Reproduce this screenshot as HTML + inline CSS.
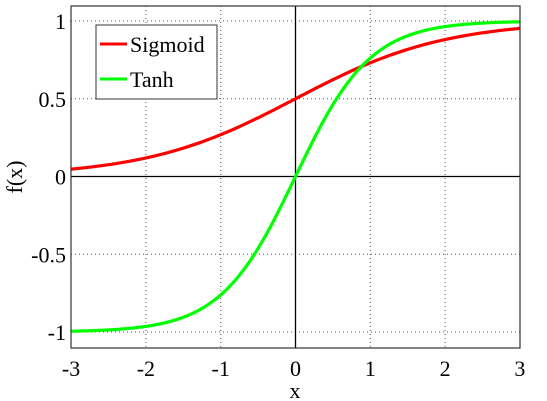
<!DOCTYPE html>
<html><head><meta charset="utf-8"><style>body{margin:0;background:#fff}svg{display:block;font-family:"Liberation Serif",serif}</style></head><body>
<svg id="c" width="547" height="401"></svg>
<script>
const xTicks=[-3,-2,-1,0,1,2,3];
const yTicks=[-1,-0.5,0,0.5,1];
const yTickLabels=["-1","-0.5","0","0.5","1"];
const seriesNames=["Sigmoid","Tanh"];
const seriesColors=["#ff0000","#00ff00"];
const L=71,R=520,T=6,B=348;
const X=v=>295.5+v*74.8, Y=v=>176.5-v*155.5;
const svg=document.getElementById('c');const NS='http://www.w3.org/2000/svg';
function mk(t,a,p){const e=document.createElementNS(NS,t);for(const k in a)e.setAttribute(k,a[k]);(p||svg).appendChild(e);return e;}
xTicks.forEach(v=>{if(v>-3&&v<3&&v!==0){const l=mk('line',{x1:X(v),x2:X(v),y1:T,y2:B,stroke:'#555','stroke-dasharray':'1,3','stroke-width':1});}
const t=mk('text',{x:X(v),y:B+28,'text-anchor':'middle','font-size':22});t.textContent=v;});
yTicks.forEach((v,i)=>{if(v!==0){const l=mk('line',{x1:L,x2:R,y1:Y(v),y2:Y(v),stroke:'#555','stroke-dasharray':'1,3','stroke-width':1});}
const t=mk('text',{x:L-5,y:Y(v)+8,'text-anchor':'end','font-size':22});t.textContent=yTickLabels[i];});
const zx=mk('line',{x1:X(0),x2:X(0),y1:T,y2:B,stroke:'#000','stroke-width':1.3});
const zy=mk('line',{x1:L,x2:R,y1:Y(0),y2:Y(0),stroke:'#000','stroke-width':1.3});
const fns=[x=>1/(1+Math.exp(-x)),x=>Math.tanh(x)];
fns.forEach((f,i)=>{let d='';for(let k=0;k<=300;k++){const x=-3+k*0.02;d+=(k?'L':'M')+X(x).toFixed(1)+','+Y(f(x)).toFixed(1);}
const p=mk('path',{d:d,fill:'none',stroke:seriesColors[i],'stroke-width':3.2});});
const fr=mk('rect',{x:L,y:T,width:R-L,height:B-T,fill:'none',stroke:'#333','stroke-width':1.2});
const g=mk('g',{});
mk('rect',{x:96,y:25,width:121,height:74,fill:'#fff',stroke:'#333','stroke-width':1},g);
seriesNames.forEach((n,i)=>{const yy=44+i*35;
const l=mk('line',{x1:100,x2:127,y1:yy,y2:yy,stroke:seriesColors[i],'stroke-width':3},g);
const t=mk('text',{x:130,y:yy+8,'font-size':22},g);t.textContent=n;});
const xl=mk('text',{x:295,y:398,'text-anchor':'middle','font-size':22});xl.textContent='x';
const yl=mk('text',{x:0,y:0,'text-anchor':'middle','font-size':22,transform:'translate(22,177) rotate(-90)'});yl.textContent='f(x)';
</script>
</body></html>
